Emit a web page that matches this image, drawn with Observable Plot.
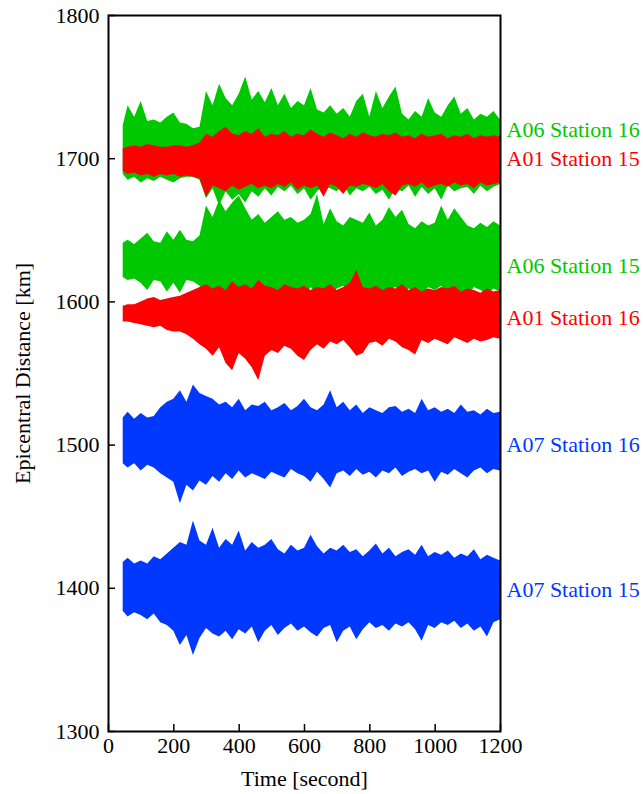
<!DOCTYPE html>
<html>
<head>
<meta charset="utf-8">
<script src="https://cdn.jsdelivr.net/npm/d3@7"></script>
<script src="https://cdn.jsdelivr.net/npm/@observablehq/plot@0.6"></script>
<style>
  body { margin: 0; background: white; }
</style>
</head>
<body>
<div id="chart"></div>
<script>
// Sample times (s)
const times = [45,60,80,100,120,140,160,180,200,220,240,260,280,300,320,340,360,380,400,420,440,460,480,500,520,540,560,580,600,620,640,660,680,700,720,740,760,780,800,820,840,860,880,900,920,940,960,980,1000,1020,1040,1060,1080,1100,1120,1140,1160,1180,1200];

// Trace names, baselines (km), colours, label positions
const traceNames = ["A06 Station 16","A06 Station 15","A01 Station 15","A01 Station 16","A07 Station 16","A07 Station 15"];
const baselines  = [1707, 1629, 1699, 1592, 1502, 1400];
const colors     = ["#00c800","#00c800","#ff0000","#ff0000","#0038ff","#0038ff"];
const labelY     = [1720, 1625, 1700, 1589, 1500, 1399];

// Upper / lower envelope deviations (km)
const upA06s16 = [16,30,22,33,19,20,18,22,25,18,17,14,15,40,30,45,35,30,38,50,34,40,32,42,30,38,28,33,30,42,27,25,30,24,28,22,33,38,22,40,28,36,43,24,20,26,22,35,25,22,30,36,24,28,20,24,22,26,20];
const dnA06s16 = [18,22,20,24,21,23,20,22,24,21,20,20,22,35,28,40,30,36,32,38,30,34,28,33,27,30,26,32,28,36,30,26,28,30,25,33,28,30,27,32,29,36,28,30,26,34,27,32,28,36,26,30,28,27,32,26,30,27,25];
const upA06s15 = [12,14,11,15,19,13,12,20,14,21,14,13,17,38,30,42,34,40,45,36,28,32,26,30,34,28,30,26,28,32,46,25,36,27,24,30,28,26,33,24,28,37,30,35,25,22,27,24,26,38,28,36,30,24,22,26,23,27,24];
const dnA06s15 = [12,14,13,16,21,14,15,22,16,23,14,15,18,24,20,26,22,25,28,20,22,26,19,24,21,27,20,22,25,19,24,21,26,20,18,23,28,21,22,20,25,21,19,24,20,22,26,19,21,18,23,20,22,26,19,21,24,20,22];
const upA01s15 = [8,9,10,9,11,10,9,9,10,10,9,10,12,18,16,20,23,18,17,20,18,22,16,18,17,20,16,18,17,21,18,16,19,17,15,18,16,19,17,16,18,17,19,16,17,15,18,16,17,18,15,17,16,18,15,17,16,17,16];
const dnA01s15 = [8,10,9,11,10,12,10,11,10,12,11,12,13,26,18,20,22,18,21,19,17,20,18,20,17,19,16,21,18,20,18,26,17,19,24,18,19,17,18,20,17,22,25,18,17,19,16,20,18,17,19,16,18,17,20,16,18,17,16];
const upA01s16 = [5,6,6,8,10,11,9,10,11,12,14,16,18,20,17,19,16,22,18,20,17,23,19,18,16,20,18,17,19,16,18,17,20,16,18,21,30,18,17,19,16,18,17,20,16,18,15,17,16,18,17,19,15,17,16,14,17,15,16];
const dnA01s16 = [6,6,7,8,9,10,9,12,13,13,15,18,22,25,30,24,35,40,28,32,38,47,30,26,28,23,25,30,33,26,22,25,20,22,19,24,30,28,21,20,23,18,20,24,26,29,19,21,18,20,22,17,19,21,18,20,19,17,18];
const upA07s16 = [17,21,16,20,17,18,24,28,30,36,28,40,34,32,30,26,28,24,30,22,26,25,28,22,24,27,22,25,30,24,22,26,36,24,28,22,26,20,24,22,20,24,25,21,23,20,30,22,24,21,23,20,26,21,22,19,23,20,21];
const dnA07s16 = [15,18,15,20,16,18,22,25,28,43,30,34,27,30,24,28,22,26,20,25,22,24,26,21,23,25,19,22,24,28,21,26,32,22,20,24,19,23,21,25,20,22,18,24,21,19,22,20,28,21,23,19,22,25,20,18,22,19,20];
const upA07s15 = [18,21,17,19,17,22,20,24,28,32,30,47,33,30,42,28,34,30,40,26,32,28,30,34,27,24,30,26,28,37,29,24,28,26,30,25,27,22,26,31,24,28,22,25,27,23,30,22,25,23,26,21,24,22,27,20,23,21,19];
const dnA07s15 = [16,20,17,19,22,18,24,26,30,40,33,47,35,28,32,34,30,36,29,32,27,38,30,26,33,28,25,30,27,31,34,28,26,38,30,27,36,29,24,28,26,30,25,27,24,29,37,26,28,24,26,23,28,25,30,27,34,24,22];

const ups = [upA06s16, upA06s15, upA01s15, upA01s16, upA07s16, upA07s15];
const dns = [dnA06s16, dnA06s15, dnA01s15, dnA01s16, dnA07s16, dnA07s15];

const xTicks = [0,200,400,600,800,1000,1200];
const yTicks = [1300,1400,1500,1600,1700,1800];

const rows = [];
traceNames.forEach((name, k) => {
  times.forEach((t, i) => {
    rows.push({series: name, t, lo: baselines[k] - dns[k][i], hi: baselines[k] + ups[k][i], color: colors[k]});
  });
});
const labels = traceNames.map((name, k) => ({name, y: labelY[k], color: colors[k]}));

const chart = Plot.plot({
  width: 643,
  height: 794,
  marginLeft: 108,
  marginRight: 143,
  marginTop: 15,
  marginBottom: 63,
  style: {fontFamily: "'Liberation Serif', 'DejaVu Serif', serif", fontSize: "22px", background: "white", color: "black"},
  x: {domain: [0, 1200], label: null},
  y: {domain: [1300, 1800], label: null},
  marks: [
    Plot.areaY(rows, {x: "t", y1: "lo", y2: "hi", z: "series", fill: "color", curve: "linear"}),
    Plot.axisX({ticks: xTicks, tickSize: -7, tickFormat: () => "", strokeWidth: 1.5, label: null}),
    Plot.axisX({ticks: xTicks, tickSize: 0, tickPadding: 6, tickFormat: d => String(d), fontSize: 22, label: null}),
    Plot.axisY({ticks: yTicks, tickSize: -7, tickFormat: () => "", strokeWidth: 1.5, label: null}),
    Plot.axisY({ticks: yTicks, tickSize: 0, tickPadding: 9, tickFormat: d => String(d), fontSize: 22, label: null}),
    Plot.frame({stroke: "black", strokeWidth: 2}),
    Plot.text(labels, {y: "y", text: "name", fill: "color", frameAnchor: "right", textAnchor: "start", dx: 6, fontSize: 22}),
    Plot.text(["Time [second]"], {text: d => d, frameAnchor: "bottom", lineAnchor: "middle", textAnchor: "middle", dy: 47, fontSize: 22}),
    Plot.text(["Epicentral Distance [km]"], {text: d => d, frameAnchor: "left", lineAnchor: "middle", textAnchor: "middle", rotate: -90, dx: -86, fontSize: 22})
  ]
});
document.getElementById("chart").appendChild(chart);
</script>
</body>
</html>
